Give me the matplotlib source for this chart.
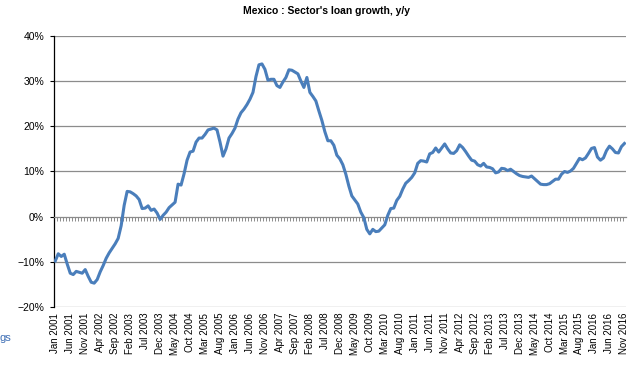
#!/usr/bin/env python3
"""Mexico: sector's loan growth, y/y (monthly, Jan 2001 - Nov 2016)"""

import matplotlib
matplotlib.use('Agg')
import matplotlib.pyplot as plt
from matplotlib.ticker import FixedLocator, PercentFormatter
import pandas as pd

# monthly labels, Jan 2001 .. Nov 2016
months = pd.date_range('2001-01-01', '2016-11-01', freq='MS').strftime('%b %Y').tolist()

# loan growth, % y/y
loan_growth = [
    -9.8, -8.2, -8.8, -8.3, -10.5, -12.5, -12.8, -12.1, -12.3, -12.5, -11.7, -13.2,
    -14.5, -14.7, -13.9, -12.2, -10.8, -9.2, -8.0, -7.0, -6.0, -4.8, -2.0, 2.5,
    5.6, 5.5, 5.1, 4.6, 3.8, 1.8, 1.9, 2.4, 1.4, 1.7, 0.8, -0.6,
    0.3, 1.0, 2.0, 2.6, 3.2, 7.2, 7.0, 9.5, 12.5, 14.3, 14.5, 16.5,
    17.4, 17.4, 18.2, 19.2, 19.4, 19.6, 19.2, 16.5, 13.4, 15.0, 17.4, 18.4,
    19.6, 21.6, 23.0, 23.8, 24.8, 26.0, 27.5, 31.0, 33.6, 33.8, 32.6, 30.2,
    30.4, 30.4, 29.0, 28.6, 29.8, 30.8, 32.5, 32.4, 32.0, 31.6, 30.0, 28.6,
    30.8, 27.5, 26.6, 25.6, 23.4, 21.3, 18.8, 16.8, 16.8, 15.8, 13.6, 12.8,
    11.5, 9.4, 6.8, 4.6, 3.7, 2.8, 1.0, -0.2, -2.8, -3.8, -2.8, -3.3,
    -3.2, -2.5, -1.8, 0.3, 1.8, 1.9, 3.6, 4.5, 6.1, 7.4, 8.0, 8.7,
    9.7, 11.8, 12.4, 12.3, 12.1, 13.9, 14.2, 15.2, 14.3, 15.2, 16.1, 15.0,
    14.1, 14.0, 14.6, 15.9, 15.3, 14.4, 13.4, 12.5, 12.3, 11.5, 11.2, 11.8,
    11.0, 10.9, 10.6, 9.7, 9.9, 10.7, 10.6, 10.2, 10.5, 10.0, 9.5, 9.1,
    8.9, 8.8, 8.7, 9.0, 8.4, 7.8, 7.2, 7.1, 7.1, 7.3, 7.8, 8.3,
    8.3, 9.4, 10.0, 9.8, 10.1, 10.7, 11.8, 12.9, 12.6, 13.0, 14.0, 15.1,
    15.3, 13.2, 12.5, 13.0, 14.6, 15.6, 15.0, 14.2, 14.1, 15.5, 16.2,
]

y_ticks = [-20, -10, 0, 10, 20, 30, 40]
label_step = 5

plt.rcParams['font.family'] = ['Liberation Sans', 'DejaVu Sans']

fig = plt.figure(figsize=(6.4, 3.7), dpi=100)
ax = fig.add_axes([0.084, 0.170, 0.894, 0.733])

x = list(range(len(months)))
ax.plot(x, loan_growth, color='#4A7EBB', linewidth=2.2, solid_joinstyle='round', zorder=3)

ax.set_xlim(-0.5, len(months) - 0.5)
ax.set_ylim(-20, 40)

# horizontal grid (the -20% floor is drawn like a gridline)
for v in y_ticks:
    if v != 0:
        ax.axhline(v, color='#8C8C8C', linewidth=0.9, zorder=1)

ax.yaxis.set_major_locator(FixedLocator(y_ticks))
ax.yaxis.set_major_formatter(PercentFormatter(decimals=0))
ax.tick_params(axis='y', length=3, width=0.8, labelsize=7.5, pad=4, colors='black')

# category axis crosses at 0 with a tick for every month
for s in ['top', 'right']:
    ax.spines[s].set_visible(False)
ax.spines['left'].set_color('black')
ax.spines['left'].set_linewidth(0.9)
ax.spines['bottom'].set_position(('data', 0))
ax.spines['bottom'].set_color('#8C8C8C')
ax.spines['bottom'].set_linewidth(0.9)
ax.set_xticks([i + 0.5 for i in x[:-1]])
ax.tick_params(axis='x', length=3, width=0.7, colors='#8C8C8C', labelbottom=False)

# labels sit at the bottom of the plot, every 5th month
sec = ax.secondary_xaxis('bottom')
sec.set_xticks(x[::label_step])
sec.set_xticklabels(months[::label_step], rotation=90, fontsize=7)
sec.tick_params(length=0, pad=4)
sec.spines['bottom'].set_visible(False)

fig.suptitle("Mexico : Sector's loan growth, y/y", x=0.51, y=0.985,
             fontsize=7.5, fontweight='bold', family=['Liberation Sans Narrow', 'Liberation Sans'])

fig.text(0.0, 0.078, 'gs', color='#3F6FB5', fontsize=8)

fig.savefig('out.png', dpi=100)
